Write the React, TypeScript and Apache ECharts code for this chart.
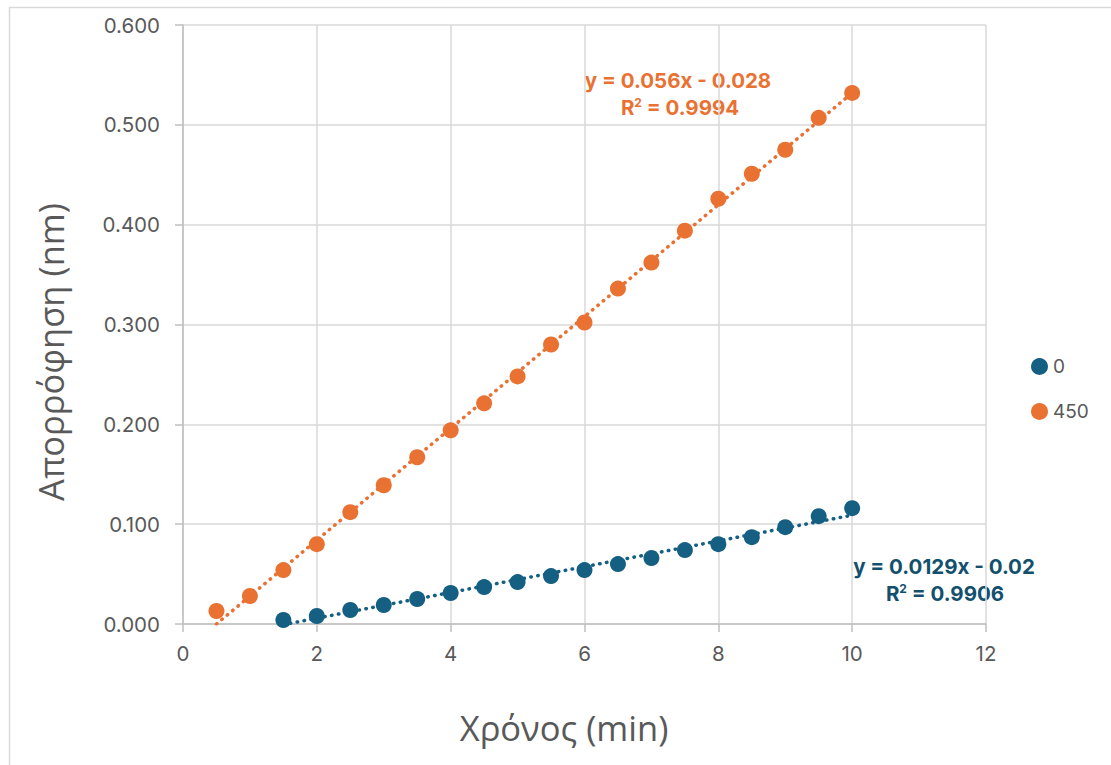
import React, { useEffect, useRef } from "react";
import * as echarts from "echarts";

const xValues = [0.5, 1, 1.5, 2, 2.5, 3, 3.5, 4, 4.5, 5, 5.5, 6, 6.5, 7, 7.5, 8, 8.5, 9, 9.5, 10];
const series450 = [0.013, 0.028, 0.054, 0.08, 0.112, 0.139, 0.167, 0.194, 0.221, 0.248, 0.28, 0.302, 0.336, 0.362, 0.394, 0.426, 0.451, 0.475, 0.507, 0.532];
const xValues0 = [1.5, 2, 2.5, 3, 3.5, 4, 4.5, 5, 5.5, 6, 6.5, 7, 7.5, 8, 8.5, 9, 9.5, 10];
const series0 = [0.004, 0.008, 0.014, 0.019, 0.025, 0.031, 0.037, 0.042, 0.048, 0.054, 0.06, 0.066, 0.074, 0.08, 0.087, 0.097, 0.108, 0.116];
const trend450 = { slope: 0.056, intercept: -0.028, r2: "0.9994", label: "y = 0.056x - 0.028" };
const trend0 = { slope: 0.0129, intercept: -0.02, r2: "0.9906", label: "y = 0.0129x - 0.02" };
const legendNames = ["0", "450"];
const xAxisTitle = "Χρόνος (min)";
const yAxisTitle = "Απορρόφηση (nm)";

const BLUE = "#156082";
const BLUE_TEXT = "#12506e";
const ORANGE = "#E97132";
const GREY_TEXT = "#595959";
const FONT = "Inter, 'Open Sans', sans-serif";
const GREEK_FONT = "'Open Sans', 'Noto Sans', sans-serif";

function trendPoints(xs: number[], t: { slope: number; intercept: number }) {
  const x0 = xs[0];
  const x1 = xs[xs.length - 1];
  return [
    [x0, t.slope * x0 + t.intercept],
    [x1, t.slope * x1 + t.intercept],
  ];
}

function r2Text(color: string, r2: string) {
  return {
    text: "{a|R}{s|2}{a| = " + r2 + "}",
    align: "center",
    verticalAlign: "middle",
    fill: color,
    rich: {
      a: { fontSize: 20.5, fontWeight: "bold", fontFamily: FONT, fill: color },
      s: { fontSize: 12, fontWeight: "bold", fontFamily: FONT, fill: color, verticalAlign: "top", padding: [0, 0, 8, 0] },
    },
  };
}

export default function App() {
  const ref = useRef<HTMLDivElement>(null);
  useEffect(() => {
    document.body.style.margin = "0";
    const chart = echarts.init(ref.current!, null, { renderer: "svg" });
    const dotted = { width: 3.5, type: [0.5, 6.5] as any, cap: "round" as const };
    chart.setOption({
      animation: false,
      backgroundColor: "#ffffff",
      textStyle: { fontFamily: FONT },
      grid: { left: 183, right: 125, top: 25, bottom: 141 },
      legend: {
        orient: "vertical",
        left: 1026,
        top: 352,
        itemGap: 26,
        itemWidth: 17,
        itemHeight: 17,
        icon: "circle",
        data: legendNames,
        textStyle: { fontSize: 19, color: GREY_TEXT, fontFamily: FONT },
      },
      xAxis: {
        type: "value",
        min: 0,
        max: 12,
        interval: 2,
        axisLine: { show: true, onZero: false, lineStyle: { color: "#bfbfbf", width: 1.5 } },
        axisTick: { show: true, length: 8, lineStyle: { color: "#bfbfbf", width: 1.5 } },
        axisLabel: { fontSize: 20.5, color: GREY_TEXT, margin: 19, fontFamily: FONT },
        splitLine: { show: true, lineStyle: { color: "#d9d9d9", width: 1.5 } },
      },
      yAxis: {
        type: "value",
        min: 0,
        max: 0.6,
        interval: 0.1,
        axisLine: { show: true, lineStyle: { color: "#bfbfbf", width: 1.5 } },
        axisTick: { show: true, length: 8, lineStyle: { color: "#bfbfbf", width: 1.5 } },
        axisLabel: { fontSize: 20.5, color: GREY_TEXT, margin: 23, fontFamily: FONT, formatter: (v: number) => v.toFixed(3) },
        splitLine: { show: true, lineStyle: { color: "#d9d9d9", width: 1.5 } },
      },
      series: [
        {
          name: "0 trend",
          type: "line",
          data: trendPoints(xValues0, trend0),
          showSymbol: false,
          symbol: "none",
          lineStyle: { ...dotted, color: BLUE },
          z: 1,
        },
        {
          name: "450 trend",
          type: "line",
          data: trendPoints(xValues, trend450),
          showSymbol: false,
          symbol: "none",
          lineStyle: { ...dotted, color: ORANGE },
          z: 1,
        },
        {
          name: "0",
          type: "scatter",
          data: xValues0.map((x, i) => [x, series0[i]]),
          symbolSize: 16,
          itemStyle: { color: BLUE, opacity: 1 },
          z: 3,
        },
        {
          name: "450",
          type: "scatter",
          data: xValues.map((x, i) => [x, series450[i]]),
          symbolSize: 16,
          itemStyle: { color: ORANGE, opacity: 1 },
          z: 3,
        },
      ],
      graphic: [
        {
          type: "rect",
          shape: { x: 9.5, y: 7.5, width: 1300, height: 900 },
          style: { fill: "none", stroke: "#d9d9d9", lineWidth: 1.5 },
          silent: true,
          z: -1,
        },
        {
          type: "text",
          x: 564,
          y: 727,
          style: { text: xAxisTitle, fill: GREY_TEXT, font: `34.5px ${GREEK_FONT}`, align: "center", verticalAlign: "middle" },
        },
        {
          type: "text",
          x: 50,
          y: 352,
          rotation: Math.PI / 2,
          style: { text: yAxisTitle, fill: GREY_TEXT, font: `34.5px ${GREEK_FONT}`, align: "center", verticalAlign: "middle" },
        },
        {
          type: "text",
          x: 678,
          y: 80,
          style: { text: trend450.label, fill: ORANGE, font: `bold 20.5px ${FONT}`, align: "center", verticalAlign: "middle" },
        },
        { type: "text", x: 680, y: 107, style: r2Text(ORANGE, trend450.r2) },
        {
          type: "text",
          x: 944,
          y: 566,
          style: { text: trend0.label, fill: BLUE_TEXT, font: `bold 20.5px ${FONT}`, align: "center", verticalAlign: "middle" },
        },
        { type: "text", x: 945, y: 593, style: r2Text(BLUE_TEXT, trend0.r2) },
      ],
    });
    return () => chart.dispose();
  }, []);
  return <div ref={ref} style={{ width: 1111, height: 765 }} />;
}
